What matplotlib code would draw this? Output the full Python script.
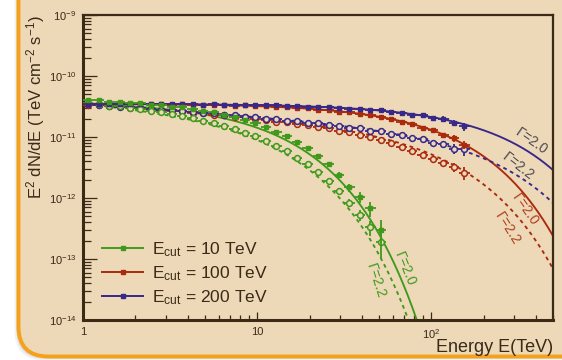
import numpy as np
import matplotlib
matplotlib.use("Agg")
import matplotlib.pyplot as plt
from matplotlib.patches import FancyBboxPatch
from matplotlib.lines import Line2D

plt.rcParams['font.family'] = ['Liberation Sans', 'DejaVu Sans']
plt.rcParams['mathtext.fontset'] = 'custom'
plt.rcParams['mathtext.rm'] = 'Liberation Sans'
plt.rcParams['mathtext.it'] = 'Liberation Sans:italic'
plt.rcParams['mathtext.bf'] = 'Liberation Sans:bold'

# bin centres in TeV (0.06 dex bins)
energy = [1.072, 1.230, 1.413, 1.622, 1.862, 2.138, 2.455, 2.818, 3.236, 3.715,
          4.266, 4.898, 5.623, 6.457, 7.413, 8.511, 9.772, 11.22, 12.88, 14.79,
          16.98, 19.50, 22.39, 25.70, 29.51, 33.88, 38.90, 44.67, 51.29, 58.88,
          67.61, 77.62, 89.13, 102.3, 117.5, 134.9, 154.9]

# E^2 dN/dE in units of 1e-11 TeV cm^-2 s^-1
green_hard = [3.98, 3.98, 3.77, 3.79, 3.65, 3.58, 3.37, 3.34, 3.15, 3.07,
              2.86, 2.71, 2.56, 2.30, 2.12, 1.89, 1.71, 1.46, 1.23, 1.04,
              0.832, 0.658, 0.480, 0.360, 0.241, 0.150, 0.105, 0.068, 0.030]
green_soft = [3.55, 3.46, 3.28, 3.18, 3.00, 2.88, 2.70, 2.55, 2.36, 2.22,
              2.03, 1.86, 1.71, 1.52, 1.37, 1.18, 1.03, 0.864, 0.719, 0.589,
              0.456, 0.356, 0.264, 0.188, 0.131, 0.0835, 0.0531, 0.0331, 0.0187]
red_hard = [3.49, 3.54, 3.47, 3.52, 3.46, 3.50, 3.43, 3.47, 3.41, 3.45,
            3.37, 3.41, 3.32, 3.36, 3.27, 3.29, 3.18, 3.20, 3.08, 3.09,
            2.96, 2.95, 2.80, 2.78, 2.60, 2.56, 2.37, 2.30, 2.10, 2.00,
            1.78, 1.66, 1.43, 1.31, 1.07, 0.95, 0.74]
red_soft = [3.40, 3.36, 3.22, 3.18, 3.02, 2.98, 2.84, 2.80, 2.66, 2.62,
            2.47, 2.44, 2.30, 2.27, 2.12, 2.09, 1.95, 1.92, 1.78, 1.74,
            1.61, 1.56, 1.44, 1.39, 1.26, 1.19, 1.07, 0.99, 0.88, 0.79,
            0.69, 0.60, 0.51, 0.44, 0.37, 0.32, 0.26]
blue_hard = [3.50, 3.46, 3.51, 3.45, 3.49, 3.44, 3.48, 3.43, 3.46, 3.42,
             3.45, 3.40, 3.42, 3.37, 3.39, 3.33, 3.35, 3.29, 3.30, 3.23,
             3.24, 3.15, 3.15, 3.06, 3.04, 2.93, 2.90, 2.78, 2.73, 2.58,
             2.52, 2.33, 2.27, 2.04, 1.98, 1.72, 1.50]
blue_soft = [3.45, 3.36, 3.28, 3.14, 3.09, 2.95, 2.92, 2.78, 2.75, 2.62,
             2.60, 2.46, 2.44, 2.31, 2.29, 2.15, 2.14, 2.00, 1.99, 1.86,
             1.84, 1.71, 1.69, 1.57, 1.54, 1.42, 1.40, 1.27, 1.24, 1.12,
             1.09, 0.96, 0.92, 0.80, 0.76, 0.64, 0.64]

# relative statistical errors
green_relerr = [0.01, 0.01, 0.01, 0.01, 0.01, 0.01, 0.01, 0.01, 0.01, 0.01,
                0.012, 0.014, 0.016, 0.018, 0.02, 0.025, 0.03, 0.035, 0.04, 0.05,
                0.06, 0.07, 0.08, 0.09, 0.11, 0.15, 0.20, 0.28, 0.45]
hard_relerr = [0.005] * 21 + [0.01, 0.012, 0.015, 0.018, 0.022, 0.026, 0.03,
                              0.035, 0.04, 0.05, 0.06, 0.07, 0.08, 0.10, 0.12, 0.15]
soft_relerr = [0.006] * 21 + [0.012, 0.015, 0.018, 0.022, 0.026, 0.03, 0.035,
                              0.04, 0.05, 0.06, 0.07, 0.09, 0.11, 0.14, 0.18, 0.25]

# spectral model: E^2 dN/dE = norm * E^(2-gamma) * exp(-E/Ecut)
e_cut = [10, 100, 200]
norm = [3.85e-11, 3.55e-11, 3.5e-11]
gammas = [2.0, 2.2]
labels = [r'E$_{\rm cut}$ = 10 TeV', r'E$_{\rm cut}$ = 100 TeV', r'E$_{\rm cut}$ = 200 TeV']
colors = ['#3f9a1c', '#ab2a0e', '#37288a']
label_colors = ['#3f9a1c', '#b0401c', '#4a4a52']

# where the Gamma annotations sit (E, flux, angle) for each cutoff
gamma_text = [[(71, 7.1e-14, -68), (48.4, 4.7e-14, -72)],
              [(346, 6.85e-13, -55), (276, 3.35e-13, -58)],
              [(374, 8.6e-12, -35), (315, 3.35e-12, -38)]]

bg = '#edd8b8'
ink = '#3a2a16'

fig = plt.figure(figsize=(5.62, 3.6), dpi=100, facecolor='white')

# panel with shadow and orange rim, kept behind the axes
for off, a in [(4, 0.05), (2.5, 0.07), (1.2, 0.09)]:
    fig.patches.append(FancyBboxPatch((18.5 - off, 3.5 - off), 700, 420,
                                      boxstyle="round,pad=0,rounding_size=30",
                                      transform=None, fc='black', ec='none',
                                      alpha=a, zorder=-3))
fig.patches.append(FancyBboxPatch((18.5, 3.5), 700, 420,
                                  boxstyle="round,pad=0,rounding_size=30",
                                  transform=None, fc=bg, ec='#f5a11c', lw=2.8,
                                  zorder=-2))

ax = fig.add_axes([83 / 562, 1 - 320 / 360, 470 / 562, 305 / 360])
ax.set_facecolor('none')
ax.set_xscale('log')
ax.set_yscale('log')
ax.set_xlim(1, 500)
ax.set_ylim(1e-14, 1e-9)

e = np.array(energy)
xlo = e - e * 10 ** -0.03
xhi = e * 10 ** 0.03 - e
ee = np.geomspace(1, 500, 400)

series = [(green_hard, green_soft, green_relerr, green_relerr),
          (red_hard, red_soft, hard_relerr, soft_relerr),
          (blue_hard, blue_soft, hard_relerr, soft_relerr)]

for i in [1, 2, 0]:
    hard, soft, herr, serr = series[i]
    c = colors[i]
    n = len(hard)
    for g, ls in zip(gammas, ['-', (0, (2.0, 2.0))]):
        ax.plot(ee, norm[i] * ee ** (2 - g) * np.exp(-ee / e_cut[i]),
                color=c, lw=1.35, ls=ls, zorder=2)
    yh = np.array(hard) * 1e-11
    ys = np.array(soft) * 1e-11
    ax.errorbar(e[:n], ys, xerr=[xlo[:n], xhi[:n]], yerr=ys * np.array(serr),
                fmt='o', ms=4.2, mfc=bg, mec=c, mew=1.1, ecolor=c, elinewidth=1.3,
                capsize=0, zorder=3)
    ax.errorbar(e[:n], yh, xerr=[xlo[:n], xhi[:n]], yerr=yh * np.array(herr),
                fmt='s', ms=3.3, mfc=c, mec=c, ecolor=c, elinewidth=1.3,
                capsize=0, zorder=4)
    for (x, y, ang), g in zip(gamma_text[i], gammas):
        ax.text(x, y, r'$\Gamma$=%.1f' % g, color=label_colors[i], fontsize=10,
                rotation=ang, ha='center', va='center', zorder=5)

for s in ax.spines.values():
    s.set_color(ink)
    s.set_linewidth(1.6)
ax.spines['left'].set_linewidth(2.2)
ax.spines['bottom'].set_linewidth(2.2)

ax.set_xticks([1, 10, 100], labels=['1', '10', '10$^{2}$'])
ax.tick_params(axis='both', which='both', direction='in', color=ink,
               labelcolor=ink, labelsize=8, top=False, right=False, width=0.9)
ax.tick_params(axis='y', which='major', length=10, pad=5)
ax.tick_params(axis='y', which='minor', length=5.5)
ax.tick_params(axis='x', which='major', length=6, pad=5)
ax.tick_params(axis='x', which='minor', length=3.5)
ax.xaxis.set_minor_formatter(plt.NullFormatter())

fig.text(36 / 562, 1 - 15 / 360, r'E$^{2}$ dN/dE (TeV cm$^{-2}$ s$^{-1}$)',
         rotation=90, ha='center', va='top', fontsize=12, color=ink)
fig.text(553 / 562, 1 - 348 / 360, 'Energy E(TeV)', ha='right', va='center',
         fontsize=13, color=ink)

handles = [Line2D([], [], color=c, lw=1.4, marker='s', ms=3.3) for c in colors]
leg = ax.legend(handles, labels, loc='lower left', bbox_to_anchor=(0.025, 0.02),
                frameon=False, fontsize=12.5, handlelength=2.4, handletextpad=0.5,
                labelspacing=0.3, borderaxespad=0)
for t in leg.get_texts():
    t.set_color(ink)

fig.savefig('out.png', dpi=100, facecolor='white')
